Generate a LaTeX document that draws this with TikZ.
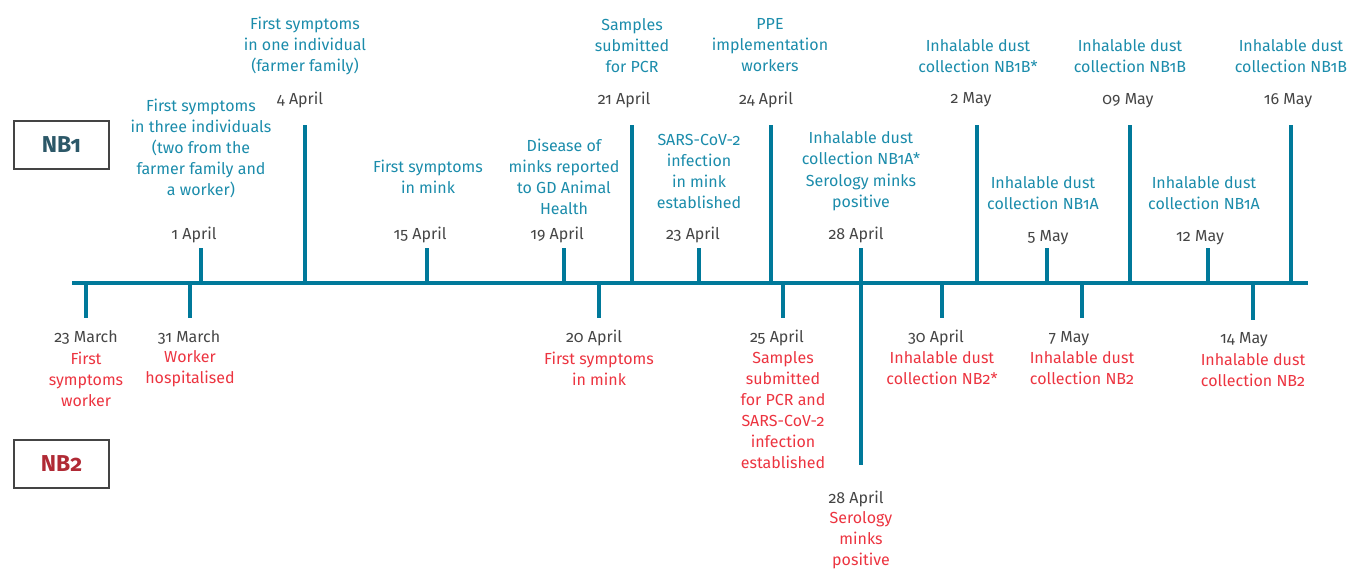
\documentclass[tikz,border=0pt]{standalone}
\usepackage{fontspec}
\setmainfont{Fira Sans}[Numbers=OldStyle]
\definecolor{tealline}{HTML}{00799A}
\definecolor{tealtext}{HTML}{1B8CAB}
\definecolor{redtext}{HTML}{EC3440}
\definecolor{datetext}{HTML}{454545}
\definecolor{boxline}{HTML}{444444}
\definecolor{nbone}{HTML}{2C5868}
\definecolor{nbtwo}{HTML}{B02A35}
\begin{document}
\begin{tikzpicture}[x=1pt,y=-1pt,
  axis/.style={tealline,line width=3.8pt},
  tick/.style={tealline,line width=3.4pt},
  up/.style={tealtext,align=center,inner sep=0pt,yshift=-1.5pt,font=\fontsize{16}{21}\selectfont},
  down/.style={redtext,align=center,inner sep=0pt,yshift=-1pt,font=\fontsize{16}{21}\selectfont},
  date/.style={datetext,inner sep=0pt,yshift=-1.5pt,font=\fontsize{16}{21}\selectfont},
  nbbox/.style={draw=boxline,line width=2pt,minimum width=95pt,minimum height=48pt,inner sep=0pt,font=\fontsize{23}{26}\selectfont\bfseries}]
\useasboundingbox (0,0) rectangle (1351,568);
% boxes
\node[nbbox,text=nbone] (nb1) at (61.5,145) {NB1};
\node[nbbox,text=nbtwo] (nb2) at (61.5,464) {NB2};
% axis
\coordinate (a0) at (72,283);
\coordinate (a1) at (1308,283);
\draw[axis] (a0) -- (a1);
% upward ticks
\foreach \n/\x/\t in {u1apr/201/248,u4apr/305/125,u15apr/427/248,u19apr/564/248,u21apr/632/125,u23apr/699/248,u24apr/771/125,u28apr/861/248,u2may/977/125,u5may/1047/248,u9may/1130/125,u12may/1208/248,u16may/1291/125}{
  \coordinate (\n b) at (\x,283);
  \coordinate (\n e) at (\x,\t);
  \draw[tick] (\n b) -- (\n e);
}
% downward ticks
\foreach \n/\x/\t in {d23mar/86/318,d31mar/190/318,d20apr/599/318,d25apr/783/318,d28apr/861/465,d30apr/942/318,d7may/1082/318,d14may/1253/320}{
  \coordinate (\n b) at (\x,283);
  \coordinate (\n e) at (\x,\t);
  \draw[tick] (\n b) -- (\n e);
}
% upper labels, tall ticks
\node[up] (l4apr) at (305,44) {First symptoms\\in one individual\\(farmer family)};
\node[date] (dt4apr) at (300,98) {4 April};
\node[up] (l21apr) at (632,44) {Samples\\submitted\\for PCR};
\node[date] (dt21apr) at (624,98) {21 April};
\node[up] (l24apr) at (770,44) {PPE\\implementation\\workers};
\node[date] (dt24apr) at (766,98) {24 April};
\node[up] (l2may) at (978,54.5) {Inhalable dust\\collection NB1B*};
\node[date] (dt2may) at (971,98) {2 May};
\node[up] (l9may) at (1130,54.5) {Inhalable dust\\collection NB1B};
\node[date] (dt9may) at (1128,99) {09 May};
\node[up] (l16may) at (1291,54.5) {Inhalable dust\\collection NB1B};
\node[date] (dt16may) at (1288,99) {16 May};
% upper labels, short ticks
\node[up] (l1apr) at (201,147) {First symptoms\\in three individuals\\(two from the\\farmer family and\\a worker)};
\node[date] (dt1apr) at (194,233) {1 April};
\node[up] (l15apr) at (428,175) {First symptoms\\in mink};
\node[date] (dt15apr) at (420,233) {15 April};
\node[up] (l19apr) at (564,175) {Disease of\\minks reported\\to GD Animal\\Health};
\node[date] (dt19apr) at (557,233) {19 April};
\node[up] (l23apr) at (699,170) {SARS-CoV-2\\infection\\in mink\\established};
\node[date] (dt23apr) at (693,233) {23 April};
\node[up] (l28apra) at (861,146.5) {Inhalable dust\\collection NB1A*};
\node[up] (l28aprb) at (861,191) {Serology minks\\positive};
\node[date] (dt28apr) at (856,233) {28 April};
\node[up] (l5may) at (1043,191.5) {Inhalable dust\\collection NB1A};
\node[date] (dt5may) at (1048,236) {5 May};
\node[up] (l12may) at (1204,191.5) {Inhalable dust\\collection NB1A};
\node[date] (dt12may) at (1200,236) {12 May};
% lower labels
\node[date] (dt23mar) at (86,336) {23 March};
\node[down] (l23mar) at (86,378) {First\\symptoms\\worker};
\node[date] (dt31mar) at (189,336) {31 March};
\node[down] (l31mar) at (190,367.5) {Worker\\hospitalised};
\node[date] (dt20apr) at (594,336) {20 April};
\node[down] (l20apr) at (599,367.5) {First symptoms\\in mink};
\node[date] (dt25apr) at (777,336) {25 April};
\node[down] (l25apr) at (783,409) {Samples\\submitted\\for PCR and\\SARS-CoV-2\\infection\\established};
\node[date] (dt28aprd) at (856,497) {28 April};
\node[down] (l28aprd) at (861,539) {Serology\\minks\\positive};
\node[date] (dt30apr) at (936,336) {30 April};
\node[down] (l30apr) at (942,367.5) {Inhalable dust\\collection NB2*};
\node[date] (dt7may) at (1069,337) {7 May};
\node[down] (l7may) at (1082,367.5) {Inhalable dust\\collection NB2};
\node[date] (dt14may) at (1244,338) {14 May};
\node[down] (l14may) at (1253,369.5) {Inhalable dust\\collection NB2};
\end{tikzpicture}
\end{document}
